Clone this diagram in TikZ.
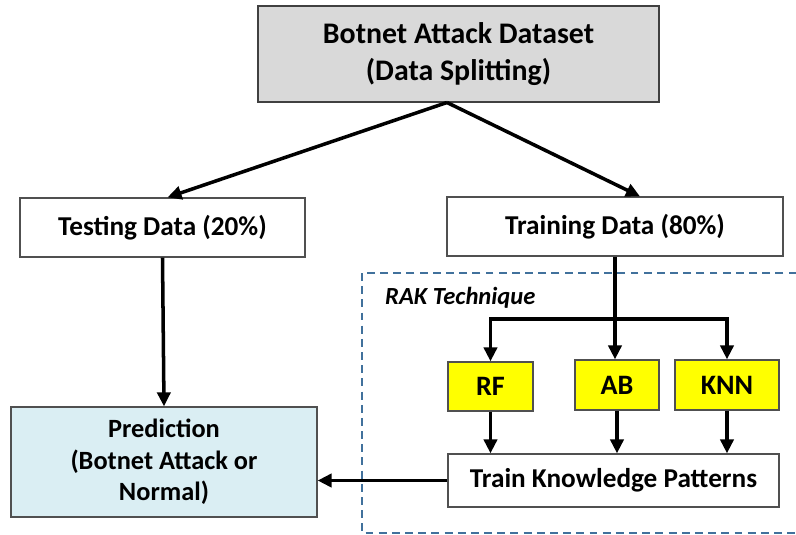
\documentclass[tikz,border=0pt]{standalone}
\usepackage{fontspec}
\setmainfont{Carlito}
\usetikzlibrary{arrows.meta,positioning}
\definecolor{BoxGray}{HTML}{D9D9D9}
\definecolor{BoxBlue}{HTML}{DAEEF3}
\definecolor{BoxYellow}{HTML}{FFFF00}
\definecolor{FrameBlue}{HTML}{41719C}
\definecolor{EdgeGray}{HTML}{505050}

\begin{document}
\begin{tikzpicture}[x=0.02cm,y=-0.02cm,line join=miter,
  box/.style={draw=EdgeGray,line width=0.7pt,inner sep=0pt,align=center,font=\fontsize{15.5}{20}\selectfont\bfseries},
  algo/.style={box,fill=BoxYellow,minimum height=1cm,font=\fontsize{16}{18}\selectfont\bfseries},
  flow/.style={line width=2pt,-{Triangle[length=8pt,width=7.5pt]}}]
  \useasboundingbox (0,0) rectangle (796,535);
  % dashed frame of the technique, open on the right
  \begin{scope}
    \clip (0,0) rectangle (796,535);
    \draw[FrameBlue,line width=0.9pt,dash pattern=on 4.5pt off 3pt] (362,273) rectangle (820,533);
  \end{scope}
  \node[anchor=west,font=\fontsize{14}{16}\selectfont\bfseries\itshape] (rak) at (379,298) {RAK Technique};
  % boxes
  \node[box,fill=BoxGray,draw=black!75,minimum width=8.02cm,minimum height=1.92cm,font=\fontsize{17}{21}\selectfont\bfseries] (data) at (458.5,54) {Botnet Attack Dataset\\(Data Splitting)};
  \node[box,minimum width=5.7cm,minimum height=1.18cm] (test) at (162.5,227.5) {Testing Data (20\%)};
  \node[box,minimum width=6.72cm,minimum height=1.18cm] (train) at (615,226.5) {Training Data (80\%)};
  \node[algo,minimum width=1.7cm,minimum height=0.98cm] (rf) at (490.5,386.5) {RF};
  \node[algo,minimum width=1.68cm] (ab) at (617,385) {AB};
  \node[algo,minimum width=2.08cm] (knn) at (727,385) {KNN};
  \node[box,minimum width=6.62cm,minimum height=1.06cm] (tkp) at (613.5,480.5) {Train\ Knowledge\ Patterns};
  \node[box,fill=BoxBlue,minimum width=6.12cm,minimum height=2.2cm,font=\fontsize{15}{18}\selectfont\bfseries] (pred) at (164,462) {Prediction\\(Botnet Attack or\\Normal)};
  % connectors
  \coordinate (split) at (447,102.5);
  \coordinate (branch) at (615,319);
  \draw[flow] (split) -- ([xshift=0.1cm]test.north);
  \draw[flow] (split) -- ([xshift=0.5cm]train.north);
  \draw[flow] (test.south) -- (pred.north);
  \draw[line width=2pt] (train.south) -- (branch);
  \draw[flow] (branch) -| (rf.north);
  \draw[flow] (branch) -- (ab.north -| branch);
  \draw[flow] (branch) -| (knn.north);
  \foreach \A in {rf,ab,knn}{\draw[flow] (\A.south) -- (\A.south |- tkp.north);}
  \draw[flow] (tkp.west) -- (pred.east |- tkp.west);
\end{tikzpicture}
\end{document}
